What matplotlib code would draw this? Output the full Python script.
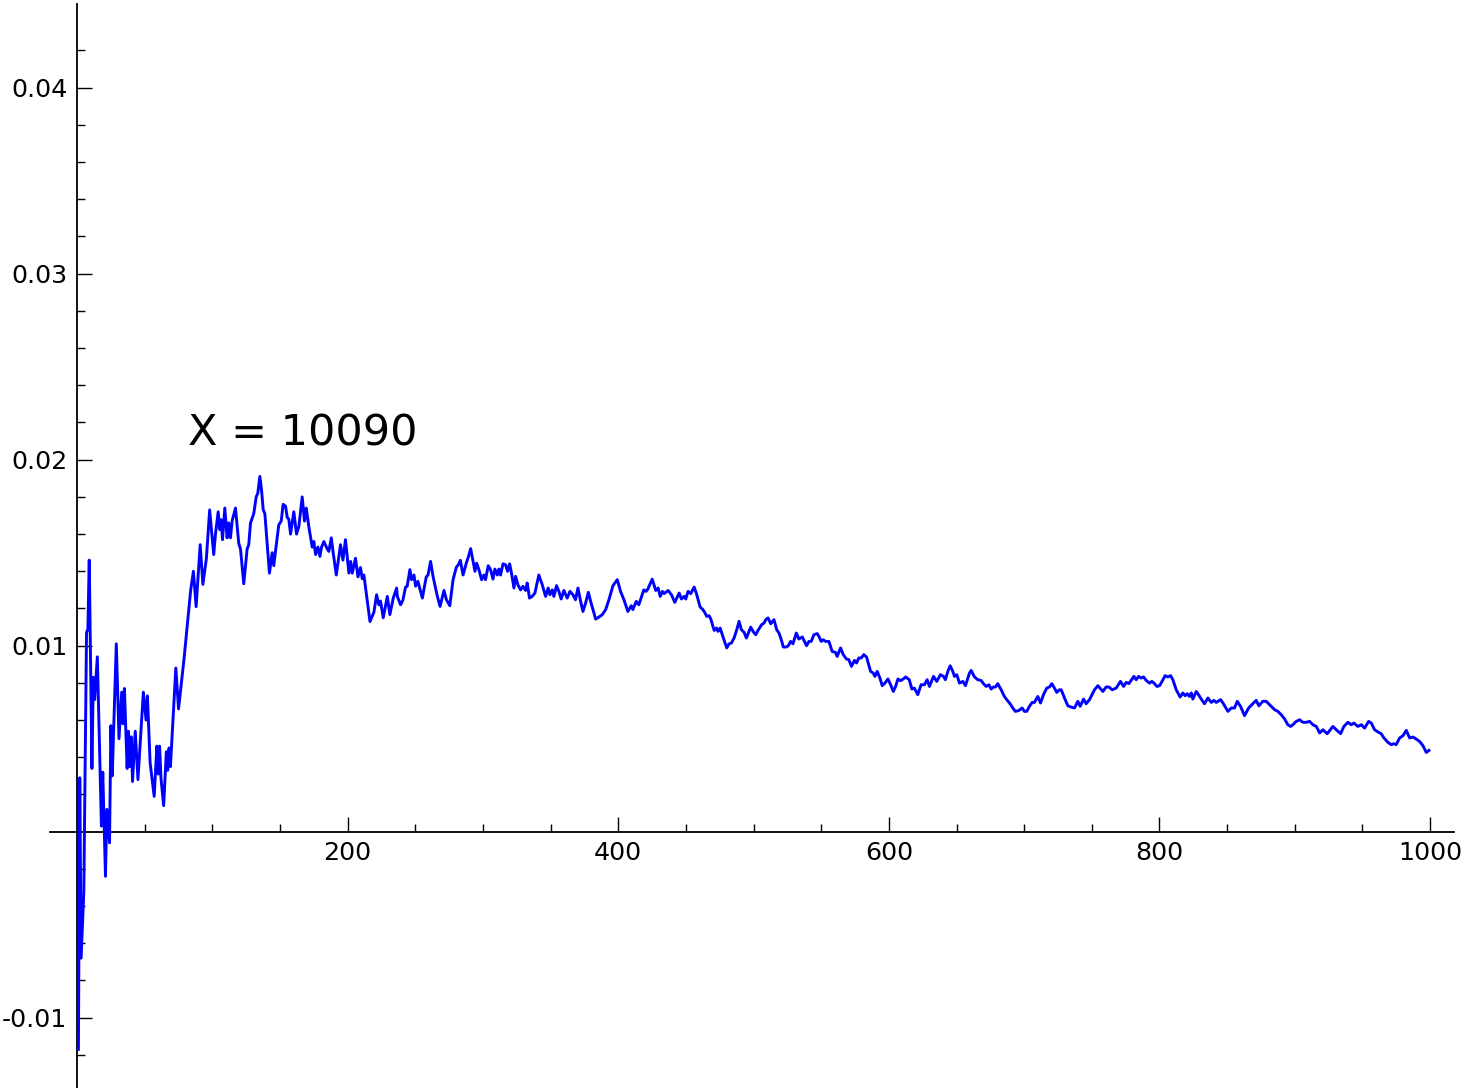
import matplotlib
matplotlib.use("Agg")
import matplotlib.pyplot as plt
from matplotlib.ticker import FixedLocator
import numpy as np

plt.rcParams['font.family'] = ['DejaVu Sans']
plt.rcParams['axes.unicode_minus'] = False

# ---- data ----
steps = [
    1, 2, 3, 5, 7, 8, 9, 11, 12, 13, 15, 18, 19, 20, 21, 22, 24, 25, 26, 29,
    31, 33, 34, 35, 37, 38, 39, 40, 41, 43, 45, 49, 51, 52, 54, 57, 59, 60, 61, 62,
    64, 66, 67, 68, 69, 73, 75,
    79, 81, 84, 86, 88, 91, 93, 95.6, 98, 101, 102.3, 104.3, 105.5, 106.5, 107.5, 109.2,
    110.9, 112.1, 113.4, 114.6, 117.1, 119.5, 120.8, 123.2, 125.7, 126.9, 128.2, 130.6,
    132.4, 133.6, 135.1, 136.3, 137.6, 138.8, 142.2, 144.2, 145.4, 146.7, 149.1, 150.9,
    152.3, 154.1, 155.3, 156.5, 157.8, 160.2, 162.2, 163.9, 166.4, 168.1, 169.4, 171.3,
    173.8, 175, 176.3, 178, 179.5, 180.7, 182.4, 184.9, 186.1, 187.9, 189.3, 191.6,
    194.7, 196.5, 198.4, 200.9, 202.2, 203.4, 205.8, 207.6, 209.5, 210.8, 212, 216.5,
    219.4, 221.4, 223.1, 224.3, 226.3, 229.3, 231.2, 233.7, 236.2,
    236.7, 239.1, 240.8, 242.8, 244, 246, 247.2, 249, 250.2, 251.9, 255.2, 258.1,
    259.4, 261.3, 263.1, 266.3, 268.3, 271.2, 273, 275.5, 277.9, 280.4, 281.8, 283.3,
    285.3, 287.7, 289.2, 290.9, 292.1, 294.1, 295.3, 297, 299, 300.7, 301.9, 303.9,
    305.6, 307.4, 308.8, 310.6, 311.8, 313, 314.8, 316.7, 318.2, 319.7, 321.1, 322.9,
    324.1, 325.8, 327.8, 329.5, 331.5, 332.7, 334.4, 336.4, 338.4, 341.3, 343.8, 346.3,
    348.2, 349.5, 351.2, 352.4, 354.4, 356.1, 357.8, 359.8, 362.3, 364.3, 366.5, 368.4,
    370.2, 372.2, 373.9, 375.9, 377.9, 379.6, 383.3, 385.7, 388.2, 390.7, 393.1, 396.1,
    399.3, 401.7, 404.2, 407.1, 409.6, 410.8, 413.3, 415.2, 418.9, 420.6, 421.9, 425.1,
    427.7, 429.5, 431, 432.7, 433.9, 436.9, 439.3, 441.8, 445, 446.7, 448.7, 449.9,
    451.6, 453.6, 456.1, 457.8, 460.5, 462.2, 463.5, 465.4, 467.2, 468.4, 470.9, 472.6,
    473.8, 475.3, 477.7, 480.2, 481.9, 483.6, 485.6, 487.6, 489.3, 491, 493, 494.7,
    497.9, 499.6, 501.6, 503.3, 506, 507.8, 509, 510.7, 512.7, 515.1, 517.1, 518.8,
    520.5, 522, 524.2, 525.7, 527.4, 529.1, 531.6, 533.5, 536, 539.2, 540.9, 542.6,
    544.6, 547.1, 548.3, 550, 551.5, 553.2, 555.7, 558.1, 560.6, 561.8, 564.3, 566.3,
    568.7, 570.4, 572.4, 574.6, 576.1, 577.8, 579.6, 581.5, 583.5, 586.5, 588.4, 589.7,
    591.4, 593.4, 595.1, 597.1, 599.3, 601.3, 603.3, 605, 606.7, 608.7, 610.7, 612.4,
    615.1, 617, 618.8, 621.4, 623.8, 626.3, 628.3, 630, 633, 635.4, 638.1, 640.4,
    641.8, 643.6, 645.3, 647.3, 648.5, 650.2, 652.2, 654.7, 656.6, 659.6, 660.8, 663.3,
    665.7, 668.2, 669.9, 671.9, 673.9, 675.6, 677.3, 678.8, 680.5, 683, 685.4, 687.1,
    689.6, 691.6, 693.5, 696, 698.5, 700.2, 701.9, 703.9, 705.9, 707.6, 710.1, 712.1,
    714.3, 716.7, 718.7, 720.4, 722.4, 724.1, 726.1, 727.4, 729.8, 732.3, 734.8, 737.2,
    739.7, 741.4, 743.9, 745.8, 748.3, 749.5, 752, 754.5, 758.2, 760.6, 762.6, 765.1,
    768, 771.2, 773.5, 775.4, 777.4, 781.1, 782.8, 784.6, 786.5, 788.3, 790.2, 792.7,
    794.4, 796.4, 798.1, 800.1, 802.6,
    804.2, 806.2, 808.2, 809.9, 812.4, 815.3, 817.3, 819, 820.5, 822.2, 823.5, 824.7,
    827.2, 828.4, 830.9, 833.3, 835.8, 838.3, 840.2, 842, 845.2, 846.9, 850.6, 853.1,
    855.5, 857.5, 859.9, 862.9, 865.9, 868.3, 871.5, 873.5, 876.4, 878.9, 881.4, 885.1,
    887.5, 890, 892.5, 894.9, 896.9, 898.6, 901.1, 903.6, 906, 908.5, 911, 913.4,
    915.9, 918.4, 920.8, 924, 928.2, 930.7, 933.9, 936.3, 939.3, 941.8, 943.7, 946.7,
    949.2, 951.6, 954.6, 956.6, 959, 962, 963.9, 965.9, 968.9, 971.3, 973.3, 975,
    977.5, 980, 982.4, 984.9, 987.4, 989.8, 992.3, 994.8, 997.2, 999.2,
]

values = [
    -0.0117, 0.0029, -0.0068, -0.0032, 0.0107, 0.0109, 0.0146, 0.0034, 0.0083, 0.0071,
    0.0094, 0.0003, 0.0032, 0.0003, -0.0024, 0.0012, -0.0006, 0.0057, 0.0030, 0.0101,
    0.0050, 0.0075, 0.0058, 0.0077, 0.0034, 0.0054, 0.0035, 0.0051, 0.0027, 0.0054,
    0.0028, 0.0075, 0.0060, 0.0073, 0.0037, 0.0019, 0.0046, 0.0031, 0.0046, 0.0029,
    0.0014, 0.0043, 0.0033, 0.0045, 0.0035, 0.0088, 0.0066,
    0.00925, 0.01077, 0.0130, 0.0140, 0.0121, 0.01543, 0.0133, 0.0147, 0.0173, 0.0149,
    0.0160, 0.0172, 0.01624, 0.01677, 0.0157, 0.0174, 0.0158, 0.0166, 0.0158, 0.0167,
    0.0174, 0.0155, 0.0152, 0.01333, 0.0152, 0.01543, 0.0166, 0.0171, 0.0180, 0.0182,
    0.0191, 0.0184, 0.0173, 0.0171, 0.0139, 0.0150, 0.0143, 0.0151, 0.0165, 0.0167,
    0.0176, 0.0175, 0.0169, 0.0168, 0.0160, 0.0172, 0.0160, 0.0164, 0.0180, 0.0167,
    0.0174, 0.0164, 0.0153, 0.0156, 0.0149, 0.0153, 0.0148, 0.0153, 0.0156, 0.0152,
    0.01507, 0.0158, 0.0150, 0.0138, 0.01543, 0.0146, 0.0157, 0.0139, 0.01453, 0.0139,
    0.0147, 0.0137, 0.0142, 0.0136, 0.0138, 0.0113, 0.0118, 0.01274, 0.0122, 0.0124,
    0.0115, 0.01265, 0.01167, 0.01256, 0.0131,
    0.01265, 0.0122, 0.01244, 0.01315, 0.0132, 0.01409, 0.01355, 0.0138, 0.0132, 0.01346,
    0.01256, 0.0137, 0.0138, 0.01453, 0.01373, 0.01265, 0.01211, 0.01297, 0.01247, 0.01215,
    0.01355, 0.01423, 0.01435, 0.01459, 0.0138, 0.01444, 0.01477, 0.01522, 0.01477, 0.0140,
    0.01444, 0.01409, 0.01355, 0.0138, 0.01355, 0.0143, 0.01409, 0.01358, 0.01412, 0.0138,
    0.01412, 0.0138, 0.0144, 0.01435, 0.0140, 0.0144, 0.0139, 0.0131, 0.01373, 0.01328,
    0.0130, 0.01319, 0.01297, 0.01337, 0.01256, 0.01265, 0.01283, 0.0138, 0.01328, 0.01265,
    0.0131, 0.01274, 0.0130, 0.01265, 0.01323, 0.01292, 0.01251, 0.01297, 0.01256, 0.01292,
    0.01274, 0.01247, 0.0131, 0.01238, 0.01184, 0.0123, 0.01287, 0.01238, 0.01143, 0.01154,
    0.01167, 0.01194, 0.01247, 0.01323, 0.01355, 0.01292, 0.01247, 0.01184, 0.01215, 0.01194,
    0.01238, 0.0122, 0.0130, 0.01292, 0.01305, 0.01358,
    0.01297, 0.0131, 0.01265, 0.01292, 0.0128, 0.01297, 0.01274, 0.01233, 0.01283, 0.01251,
    0.01265, 0.01251, 0.01292, 0.0128, 0.01315, 0.0128, 0.01208, 0.01197, 0.01184, 0.01158,
    0.01161, 0.01143, 0.01082, 0.01095, 0.01077, 0.01095, 0.01041, 0.00988, 0.0101, 0.01014,
    0.01041, 0.01086, 0.01131, 0.01086, 0.01072, 0.01041, 0.011, 0.01077, 0.01059, 0.01082,
    0.01113, 0.01122, 0.0114, 0.01149, 0.01118, 0.0114, 0.01086, 0.01068, 0.01032, 0.00993,
    0.00993, 0.0100, 0.01023, 0.0101, 0.01068, 0.01036, 0.01047, 0.0100, 0.01023, 0.01023,
    0.01059, 0.01065, 0.0105, 0.01023, 0.01032, 0.01023, 0.01023, 0.00969, 0.00964, 0.00942,
    0.00988, 0.00952, 0.00928, 0.00925, 0.00889, 0.00921, 0.00907, 0.00934, 0.00934, 0.00952,
    0.00939, 0.00862, 0.00853, 0.00835, 0.00862, 0.00826, 0.00785, 0.00799, 0.00821, 0.0079,
    0.00754, 0.00781, 0.00821, 0.00812, 0.00821, 0.00832,
    0.00817, 0.00767, 0.00772, 0.00737, 0.0079, 0.0079, 0.00817, 0.00781, 0.00835, 0.00808,
    0.00844, 0.00835, 0.00817, 0.00862, 0.00892, 0.00862, 0.00835, 0.00844, 0.00799, 0.00808,
    0.00785, 0.00853, 0.00867, 0.00832, 0.00817, 0.00813, 0.00796, 0.00781, 0.0079, 0.00767,
    0.00778, 0.00778, 0.00796, 0.00763, 0.00727, 0.0071, 0.00688, 0.00665, 0.00647, 0.00651,
    0.00665, 0.00647, 0.00647, 0.00674, 0.00695, 0.00695, 0.00727, 0.00692, 0.00737, 0.00772,
    0.00778, 0.00796, 0.00772, 0.00749, 0.00763, 0.00763, 0.00719, 0.00677, 0.0067, 0.00665,
    0.00701, 0.00674, 0.00713, 0.00688, 0.0071, 0.00727, 0.00763, 0.00785, 0.00754, 0.00778,
    0.00778, 0.00763, 0.00772, 0.00808, 0.00781, 0.00803, 0.00796, 0.00835, 0.00817, 0.00835,
    0.00826, 0.00832, 0.00813, 0.00799, 0.00808, 0.00796, 0.00781, 0.00785, 0.00817,
    0.00839, 0.00832, 0.00839, 0.00817, 0.00763, 0.00724, 0.00746, 0.00731, 0.00742, 0.00727,
    0.00746, 0.00713, 0.00754, 0.00742, 0.00713, 0.00688, 0.00719, 0.00695, 0.00706, 0.00695,
    0.0071, 0.00692, 0.00647, 0.00665, 0.00665, 0.00701, 0.00674, 0.00624, 0.00665, 0.00683,
    0.00706, 0.00677, 0.00701, 0.00701, 0.00683, 0.00656, 0.00647, 0.00629, 0.00606, 0.00575,
    0.00566, 0.00575, 0.00593, 0.00602, 0.00588, 0.00588, 0.00593, 0.00575, 0.00566, 0.00531,
    0.00548, 0.00527, 0.00566, 0.00548, 0.00527, 0.00566, 0.00588, 0.00575, 0.00584, 0.00566,
    0.00575, 0.00557, 0.00593, 0.00584, 0.00548, 0.00534, 0.00527, 0.00504, 0.0048, 0.00468,
    0.00473, 0.00468, 0.00504, 0.00516, 0.00545, 0.00504, 0.00509, 0.00498, 0.00485, 0.00462,
    0.00426, 0.00437,
]

xtick_values = [200, 400, 600, 800, 1000]
ytick_values = [-0.01, 0.01, 0.02, 0.03, 0.04]
ytick_labels = ["-0.01", "0.01", "0.02", "0.03", "0.04"]
annotation = "X = 10090"

# ---- figure ----
W, H = 1470, 1088
fig = plt.figure(figsize=(W / 100, H / 100), dpi=100)
ax = fig.add_axes([50 / W, 0, 1404 / W, 1084 / H])

ax.plot(steps, values, color="#0000ff", linewidth=2.1, zorder=3)

ax.set_xlim(-20, 1017.7)
ax.set_ylim(-0.01378, 0.0445)

for s in ("top", "right"):
    ax.spines[s].set_visible(False)
ax.spines["left"].set_position(("data", 0))
ax.spines["bottom"].set_position(("data", 0))
for s in ("left", "bottom"):
    ax.spines[s].set_linewidth(1.3)
    ax.spines[s].set_color("black")

ax.xaxis.set_major_locator(FixedLocator(xtick_values))
ax.set_xticklabels([str(v) for v in xtick_values])
ax.xaxis.set_minor_locator(FixedLocator([v for v in range(50, 1001, 50) if v % 200 != 0]))
ax.yaxis.set_major_locator(FixedLocator(ytick_values))
ax.set_yticklabels(ytick_labels)
ymin_ticks = [round(v, 4) for v in np.arange(-0.012, 0.0431, 0.002)
              if abs(round(v, 4) * 100 - round(round(v, 4) * 100)) > 1e-6]
ax.yaxis.set_minor_locator(FixedLocator(ymin_ticks))

ax.tick_params(axis="both", which="both", direction="in", colors="black",
               labelsize=18.3, pad=7)
ax.tick_params(which="major", length=10.5, width=1.0)
ax.tick_params(which="minor", length=5.5, width=1.0)

ax.text(166.6, 0.02079, annotation, fontsize=31, ha="center", va="baseline",
        color="black")

fig.savefig("out.png", dpi=100)
